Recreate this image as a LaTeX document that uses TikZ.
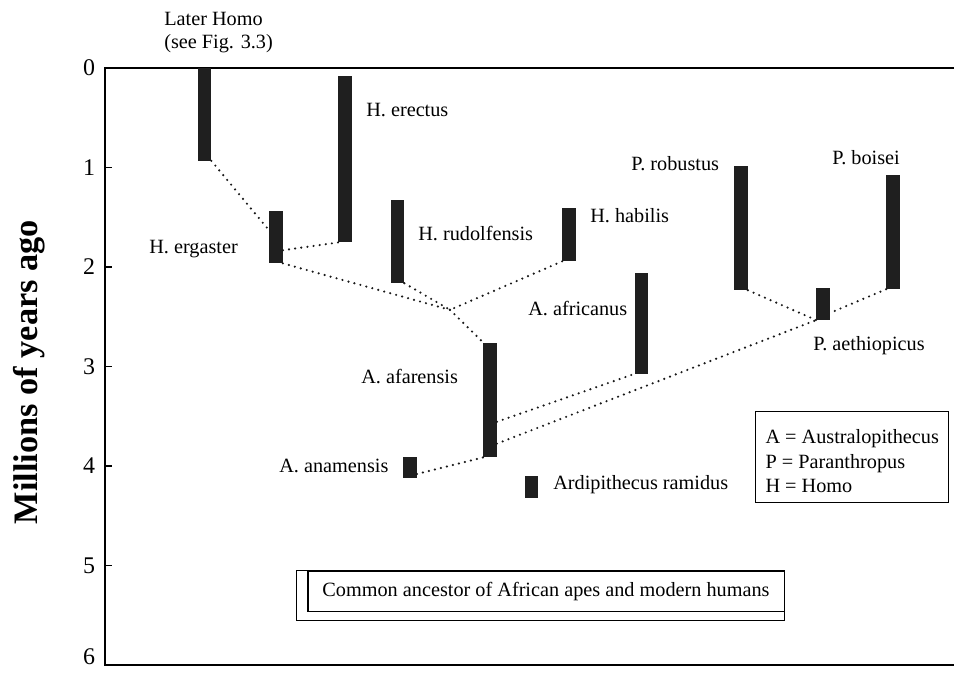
\documentclass[tikz,border=0pt]{standalone}
\usepackage{fontspec}
\setmainfont{Liberation Serif}
\usetikzlibrary{calc}

\tikzset{
	fossil/.style={fill=black!88, inner sep=0pt, minimum width=0.33cm},
	link/.style={line width=1.7pt, dash pattern=on 0pt off 4.4pt, line cap=round, black!90},
	taxon/.style={anchor=base west, inner sep=0pt, font=\fontsize{14.4}{17.4}\selectfont},
}

% name, x, from, to (Myr ago)
\newcommand{\fossilbar}[4]{%
	\pgfmathsetmacro{\barlen}{(#4-#3)*2.4875}
	\node[fossil, minimum height=\barlen cm] (#1) at (#2, {(#3+#4)/2}) {};
}

\begin{document}
\begin{tikzpicture}[x=0.025cm, y=-2.4875cm]
	\useasboundingbox (0,-0.6834) rectangle (956,6.0704);
	\draw[line width=1.8pt] (954,0) -- (105,0) -- (105,6) -- (954,6);
	\foreach \t in {0,...,6} {
		\draw[line width=1pt] (105,\t) -- (112,\t);
	}
	\foreach \t in {0,...,5} {
		\node[font=\fontsize{17}{20}\selectfont, inner sep=0pt] (tick\t) at (89,\t) {\t};
	}
	\node[font=\fontsize{17}{20}\selectfont, inner sep=0pt, anchor=south] (tick6) at (89,6.0) {6};
	\node[rotate=90, font=\fontsize{24.4}{28}\selectfont\bfseries, inner sep=0pt] (ytitle) at (29,3.055) {Millions of years ago};

	\coordinate (fork) at (450,2.43);
	\fossilbar{later}{204.5}{0}{0.93}
	\fossilbar{erectus}{345}{0.08}{1.75}
	\fossilbar{ergaster}{276}{1.44}{1.96}
	\fossilbar{rudolfensis}{397.5}{1.33}{2.16}
	\fossilbar{habilis}{569}{1.41}{1.94}
	\fossilbar{africanus}{641.5}{2.06}{3.07}
	\fossilbar{robustus}{741}{0.98}{2.23}
	\fossilbar{boisei}{893}{1.07}{2.22}
	\fossilbar{aethiopicus}{823}{2.21}{2.53}
	\fossilbar{afarensis}{490}{2.76}{3.91}
	\fossilbar{anamensis}{410}{3.91}{4.12}
	\fossilbar{ramidus}{531.5}{4.10}{4.32}

	\draw[link] (later.south east) -- ($(ergaster.north west)!0.37!(ergaster.south west)$);
	\draw[link] ($(ergaster.north east)!0.75!(ergaster.south east)$) -- (erectus.south west);
	\draw[link] (ergaster.south east) -- (fork);
	\draw[link] (rudolfensis.south east) -- (fork);
	\draw[link] (habilis.south west) -- (fork);
	\draw[link] (fork) -- (afarensis.north west);
	\draw[link] ($(afarensis.north east)!0.69!(afarensis.south east)$) -- (africanus.south west);
	\draw[link] ($(afarensis.north east)!0.88!(afarensis.south east)$) -- (aethiopicus.south west);
	\draw[link] (robustus.south east) -- (aethiopicus.south west);
	\draw[link] (boisei.south west) -- ($(aethiopicus.north east)!0.78!(aethiopicus.south east)$);
	\draw[link] ($(anamensis.north east)!0.8!(anamensis.south east)$) -- (afarensis.south west);

	\node[anchor=north west, inner sep=0pt, align=left, font=\fontsize{14.4}{16.4}\selectfont] (laterlbl) at (164,-0.563) {Later Homo\\(see Fig. 3.3)};
	\node[taxon] (erectuslbl) at (366,0.492) {H. erectus};
	\node[taxon] (ergasterlbl) at (149,1.859) {H. ergaster};
	\node[taxon] (rudolfensislbl) at (418,1.729) {H. rudolfensis};
	\node[taxon] (habilislbl) at (590,1.548) {H. habilis};
	\node[taxon] (robustuslbl) at (631,1.025) {P. robustus};
	\node[taxon] (boiseilbl) at (832,0.965) {P. boisei};
	\node[taxon] (africanuslbl) at (528,2.482) {A. africanus};
	\node[taxon] (aethiopicuslbl) at (813,2.834) {P. aethiopicus};
	\node[taxon] (afarensislbl) at (361,3.166) {A. afarensis};
	\node[taxon] (anamensislbl) at (279,4.060) {A. anamensis};
	\node[taxon] (ramiduslbl) at (553,4.231) {Ardipithecus ramidus};

	\node[draw, line width=0.8pt, anchor=north west, align=left, inner xsep=7.1pt, inner ysep=7.1pt, font=\fontsize{14.4}{17.4}\selectfont] (key) at (755,3.447) {\rule{0pt}{15.6pt}A = Australopithecus\\P = Paranthropus\\H = Homo};

	\node[draw, line width=0.8pt, minimum width=11.9cm, minimum height=1cm, inner sep=0pt, font=\fontsize{14.4}{17.4}\selectfont] (ancestor) at (546,5.256) {Common ancestor of African apes and modern humans};
	\draw[line width=0.8pt] ([xshift=-0.275cm]ancestor.north west) rectangle ([yshift=-0.225cm]ancestor.south east);
\end{tikzpicture}
\end{document}
